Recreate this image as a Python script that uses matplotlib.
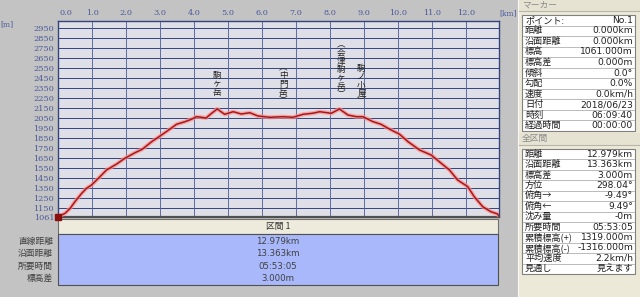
import numpy as np
import matplotlib.pyplot as plt
from matplotlib.patches import Rectangle
from matplotlib.transforms import ScaledTranslation

plt.rcParams['font.family'] = ['Noto Sans CJK JP', 'DejaVu Sans']

# ---------------------------------------------------------------------------
# Data
# ---------------------------------------------------------------------------
dist_km = [0.00, 0.20, 0.35, 0.49, 0.69, 0.83, 0.98, 1.18, 1.42, 1.72, 1.96,
           2.26, 2.47, 2.75, 3.04, 3.28, 3.48, 3.73, 3.92, 4.07, 4.22, 4.35,
           4.50, 4.68, 4.90, 5.15, 5.39, 5.64, 5.88, 6.23, 6.62, 6.91, 7.21,
           7.50, 7.70, 8.04, 8.28, 8.53, 8.78, 8.97, 9.27, 9.50, 9.76, 10.05,
           10.30, 10.64, 10.98, 11.22, 11.52, 11.76, 12.06, 12.25, 12.50,
           12.74, 12.94, 12.979]
elev_m = [1061, 1094, 1144, 1210, 1294, 1344, 1377, 1444, 1527, 1587, 1644,
          1700, 1734, 1810, 1877, 1934, 1984, 2010, 2034, 2060, 2054, 2047,
          2090, 2137, 2084, 2110, 2087, 2100, 2067, 2054, 2060, 2054, 2084,
          2095, 2110, 2094, 2137, 2077, 2060, 2060, 2010, 1985, 1935, 1885,
          1810, 1727, 1677, 1610, 1527, 1427, 1360, 1260, 1160, 1110, 1087,
          1064]

x_ticks = np.arange(0, 13)
y_ticks = [1061] + list(range(1150, 3000, 100))

peak_names = ['駒ヶ岳', '(中門岳)', '(会津駒ヶ岳)', '駒ノ小屋)']
peak_km = [4.68, 6.62, 8.33, 8.93]
peak_label_elev = [2257, 2175, 2237, 2165]

section_rows = ['直線距離', '沿面距離', '所要時間', '標高差']
section_vals = ['12.979km', '13.363km', '05:53:05', '3.000m']

marker_labels = ['ポイント:', '距離', '沿面距離', '標高', '標高差', '傾斜', '勾配',
                 '速度', '日付', '時刻', '経過時間']
marker_vals = ['No.1', '0.000km', '0.000km', '1061.000m', '0.000m', '0.0°',
               '0.0%', '0.0km/h', '2018/06/23', '06:09:40', '00:00:00']

total_labels = ['距離', '沿面距離', '標高差', '方位', '俯角→', '俯角←', '沈み量',
                '所要時間', '累積標高(+)', '累積標高(-)', '平均速度', '見通し']
total_vals = ['12.979km', '13.363km', '3.000m', '298.04°', '-9.49°', '9.49°',
              '-0m', '05:53:05', '1319.000m', '-1316.000m', '2.2km/h', '見えます']

# ---------------------------------------------------------------------------
# Figure / helpers
# ---------------------------------------------------------------------------
W, H = 640, 297
fig = plt.figure(figsize=(W / 100, H / 100), dpi=100, facecolor='#c3c3c3')


def px_axes(x0, y0, x1, y1, **kw):
    return fig.add_axes([x0 / W, 1 - y1 / H, (x1 - x0) / W, (y1 - y0) / H], **kw)


def vertical(s):
    s = s.replace('(', '︵').replace(')', '︶')
    return '\n'.join(s)


# overlay in pixel coordinates for the panels
ov = fig.add_axes([0, 0, 1, 1], zorder=0)
ov.set_xlim(0, W)
ov.set_ylim(H, 0)
ov.axis('off')

label_c = '#303030'
small = 6.3
val_font = ['DejaVu Sans', 'Noto Sans CJK JP']

# bottom section table
ov.add_patch(Rectangle((58, 218.5), 440, 15.5, fc='#eeebdc', ec='#707070', lw=0.8))
ov.text(278, 226.5, '区間 1', ha='center', va='center', fontsize=small, color=label_c)
ov.add_patch(Rectangle((58, 234), 440, 51, fc='#a8b8fa', ec='#505050', lw=0.8))
row_y = [241, 253.7, 266.3, 278.5]
for y, lab, val in zip(row_y, section_rows, section_vals):
    ov.text(53, y, lab, ha='right', va='center', fontsize=small, color='#404040')
    ov.text(278, y, val, ha='center', va='center', fontsize=6.2, color='#404040',
            family=val_font)

# right-hand panel
ov.add_patch(Rectangle((518, 0), 122, H, fc='#ece9d8', ec='#f8f8f8', lw=0.8))


def info_table(y_head, title, y0, y1, labels, vals):
    ov.add_patch(Rectangle((519, y_head - 6), 121, 12, fc='#e6e3d2', ec='none'))
    ov.plot([519, 640], [y_head + 6, y_head + 6], color='#b8b5a8', lw=0.8)
    ov.text(522, y_head, title, ha='left', va='center', fontsize=small, color='#8a8a8a')
    ov.add_patch(Rectangle((522, y0), 113, y1 - y0, fc='white', ec='#808080', lw=0.8))
    h = (y1 - y0) / len(labels)
    for i, (lab, val) in enumerate(zip(labels, vals)):
        yc = y0 + h * (i + 0.5)
        if i > 0:
            ov.plot([523, 634], [y0 + h * i, y0 + h * i], color='#b0b0b0', lw=0.6)
        ov.text(525, yc, lab, ha='left', va='center', fontsize=6.6, color='#202020')
        ov.text(633, yc, val, ha='right', va='center', fontsize=6.6, color='#202020',
                family=val_font)


info_table(5, 'マーカー', 15, 131, marker_labels, marker_vals)
info_table(139, '全区間', 149, 274, total_labels, total_vals)

fig.text(7 / W, 1 - 24 / H, '[m]', fontsize=5.5, color='#4a5a9a',
         ha='center', va='center', family='DejaVu Serif')
fig.text(508 / W, 1 - 13 / H, '[km]', fontsize=5.5, color='#4a5a9a',
         ha='center', va='center', family='DejaVu Serif')

# ---------------------------------------------------------------------------
# Profile plot
# ---------------------------------------------------------------------------
ax = px_axes(58.3, 21, 499, 216.6, zorder=2)
ax.set_facecolor('#dfe0e7')
ax.set_xlim(0, 12.979)
ax.set_ylim(1061, 1061 + (216.6 - 21) * 10)

for yv in y_ticks[1:]:
    ax.axhline(yv, color='#34447e', lw=0.7, zorder=1)
for xv in x_ticks[1:]:
    ax.axvline(xv, color='#55649e', lw=0.65, zorder=1)

ax.plot(dist_km, elev_m, color='#ff8c8c', lw=3.0, alpha=0.7, zorder=3,
        solid_capstyle='round')
ax.plot(dist_km, elev_m, color='#a81818', lw=1.1, zorder=4)
ax.plot([dist_km[0]], [elev_m[0]], marker='s', ms=4, color='#8a1010',
        zorder=5, clip_on=False)

for name, km, ye in zip(peak_names, peak_km, peak_label_elev):
    ax.text(km, ye, vertical(name), ha='center', va='bottom', fontsize=6.2,
            linespacing=0.9, color='#202020', zorder=5)

ax.set_yticks(y_ticks)
ax.set_yticklabels([str(v) for v in y_ticks])
ax.xaxis.tick_top()
ax.set_xticks(x_ticks)
ax.set_xticklabels([f'{v:.1f}' for v in x_ticks])
ax.tick_params(length=0, labelsize=5.9, colors='#4a5a9a', pad=3)
for lab in ax.get_yticklabels() + ax.get_xticklabels():
    lab.set_family('DejaVu Serif')
first = ax.get_xticklabels()[0]
first.set_transform(first.get_transform() + ScaledTranslation(8 / 100, 0, fig.dpi_scale_trans))

for side in ['left', 'top', 'right']:
    ax.spines[side].set_color('#34447e')
    ax.spines[side].set_linewidth(1.0)
ax.spines['bottom'].set_color('#505050')
ax.spines['bottom'].set_linewidth(1.6)

fig.savefig('out.png', dpi=100, facecolor=fig.get_facecolor())
